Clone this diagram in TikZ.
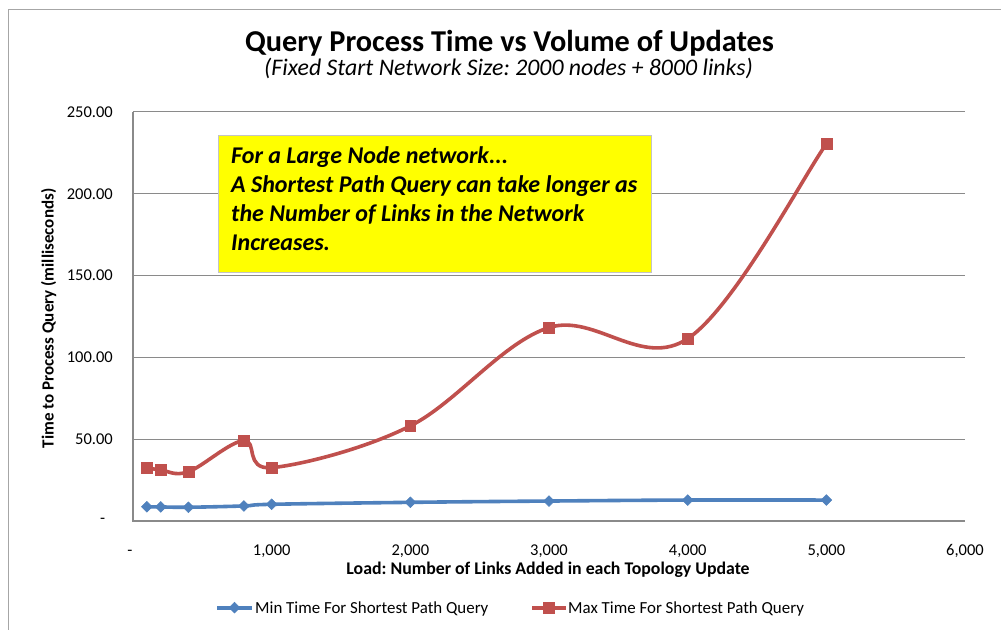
\documentclass[tikz,border=0pt]{standalone}
\usepackage{fontspec}
\setmainfont{Carlito}
\usetikzlibrary{calc,shapes.geometric}
\frenchspacing

\definecolor{serblue}{HTML}{4F81BD}
\definecolor{serred}{HTML}{C0504D}
\definecolor{gridgray}{HTML}{8A8A8A}
\definecolor{framegray}{HTML}{A6A6A6}
\definecolor{notefill}{HTML}{FFFF00}
\definecolor{noteframe}{HTML}{C4C4C4}

\tikzset{
  gridline/.style={gridgray, line width=1.2pt},
  axisline/.style={gridgray, line width=1.2pt},
  ticklabel/.style={inner sep=0pt, font=\fontsize{16.5}{19}\selectfont},
  axistitle/.style={inner sep=0pt, font=\bfseries\fontsize{17.8}{21}\selectfont},
  legendtext/.style={inner sep=0pt, anchor=base west, font=\fontsize{16.9}{20}\selectfont},
  notetext/.style={inner sep=0pt, anchor=base west, font=\bfseries\itshape\fontsize{24}{29}\selectfont},
  seriesline/.style={line width=3.6pt, line cap=round, line join=round},
  minmark/.style={diamond, aspect=1, fill=serblue, draw=serblue, line width=0.5pt,
    inner sep=0pt, minimum width=11pt, minimum height=11pt},
  maxmark/.style={rectangle, fill=serred, draw=serred, line width=0.5pt,
    inner sep=0pt, minimum size=10.8pt},
}

\begin{document}
\begin{tikzpicture}[x=1pt, y=-1pt]
  \useasboundingbox (0,0) rectangle (1001,629);
  \clip (0,0) rectangle (1001,629);
  \fill[white] (0,0) rectangle (1001,629);

  % chart frame (top and left edges)
  \draw[framegray, line width=1.5pt] (8.5,700) |- (1100,9.5);

  % titles
  \node[anchor=base, inner sep=0pt, font=\bfseries\fontsize{30.3}{36}\selectfont]
    (title) at (509.5,51.7) {Query Process Time vs Volume of Updates};
  \node[anchor=base, inner sep=0pt, font=\itshape\fontsize{23.8}{28}\selectfont]
    (subtitle) at (508.5,75) {(Fixed Start Network Size: 2000 nodes + 8000 links)};

  % plotting area in data units
  \begin{scope}[shift={(133pt,-521pt)}, x=0.13867pt, y=1.6367pt]
    \foreach \v in {50,100,150,200,250}
      \draw[gridline] (0,\v) -- (6000,\v);
    \draw[axisline] (0,250) -- (0,0) -- (6000,0);

    % data points
    \foreach \i/\x/\y in {1/100/8.7,2/200/8.6,3/400/8.4,4/800/9.2,5/1000/10.2,
                          6/2000/11.4,7/3000/12.2,8/4000/12.8,9/5000/12.8}
      \coordinate (a\i) at (\x,\y);
    \foreach \i/\x/\y in {1/100/32.6,2/200/31.2,3/400/30.1,4/800/49.1,5/1000/32.6,
                          6/2000/58.1,7/3000/118.2,8/4000/111.4,9/5000/230.4}
      \coordinate (b\i) at (\x,\y);
  \end{scope}

  % y tick labels
  \foreach \py/\t in {112/250.00,193.8/200.00,275.7/150.00,357.5/100.00,439.3/50.00}
    \node[ticklabel, anchor=east] (ylab\t) at (113,\py) {\t};
  \node[ticklabel, anchor=east] (ylabzero) at (105.5,521) {-};

  % x tick labels
  \node[ticklabel, anchor=base] (xlabzero) at (130,555) {-};
  \foreach \px/\t in {271.7/{1,000},410.4/{2,000},549/{3,000},687.7/{4,000},826.4/{5,000},965/{6,000}}
    \node[ticklabel, anchor=base] at (\px,555) {\t};

  % end neighbours for the spline tangents
  \coordinate (a0) at (a1); \coordinate (a10) at (a9);
  \coordinate (b0) at (b1); \coordinate (b10) at (b9);

  % smoothed series (Catmull-Rom segments)
  \foreach \s/\c in {a/serblue,b/serred}{
    \draw[seriesline, \c] (\s1)
      \foreach \i [evaluate=\i as \p using int(\i-1),
                   evaluate=\i as \n using int(\i+1),
                   evaluate=\i as \m using int(\i+2)] in {1,...,8}{
        .. controls ($(\s\i)+0.16667*(\s\n)-0.16667*(\s\p)$)
           and ($(\s\n)-0.16667*(\s\m)+0.16667*(\s\i)$) .. (\s\n)
      };
  }

  % markers
  \foreach \i in {1,...,9}{
    \node[minmark] (minpt\i) at (a\i) {};
    \node[maxmark] (maxpt\i) at (b\i) {};
  }

  % axis titles
  \node[axistitle, anchor=base] (xtitle) at (548,574) {Load: Number of Links Added in each Topology Update};
  \node[axistitle, anchor=base, rotate=90, font=\bfseries\fontsize{17}{20}\selectfont]
    (ytitle) at (53.5,318.5) {Time to Process Query (milliseconds)};

  % annotation box
  \draw[noteframe, fill=notefill, line width=1pt] (218,135) rectangle (651,272);
  \node[notetext] (note1) at (231,163.3) {For a Large Node network...};
  \node[notetext] (note2) at (231,192.4) {A Shortest Path Query can take longer as};
  \node[notetext] (note3) at (231,221.5) {the Number of Links in the Network};
  \node[notetext] (note4) at (231,250.7) {Increases.};

  % legend
  \coordinate (lgA1) at (217,607.7); \coordinate (lgA2) at (252,607.7);
  \coordinate (lgB1) at (532,607.7); \coordinate (lgB2) at (566,607.7);
  \draw[seriesline, serblue, line cap=butt] (lgA1) -- (lgA2);
  \node[minmark] (lgminmark) at (234.5,607.7) {};
  \node[legendtext] (lgmin) at (255,613.3) {Min Time For Shortest Path Query};
  \draw[seriesline, serred, line cap=butt] (lgB1) -- (lgB2);
  \node[maxmark] (lgmaxmark) at (549,607.7) {};
  \node[legendtext] (lgmax) at (568,613.3) {Max Time For Shortest Path Query};
\end{tikzpicture}
\end{document}
